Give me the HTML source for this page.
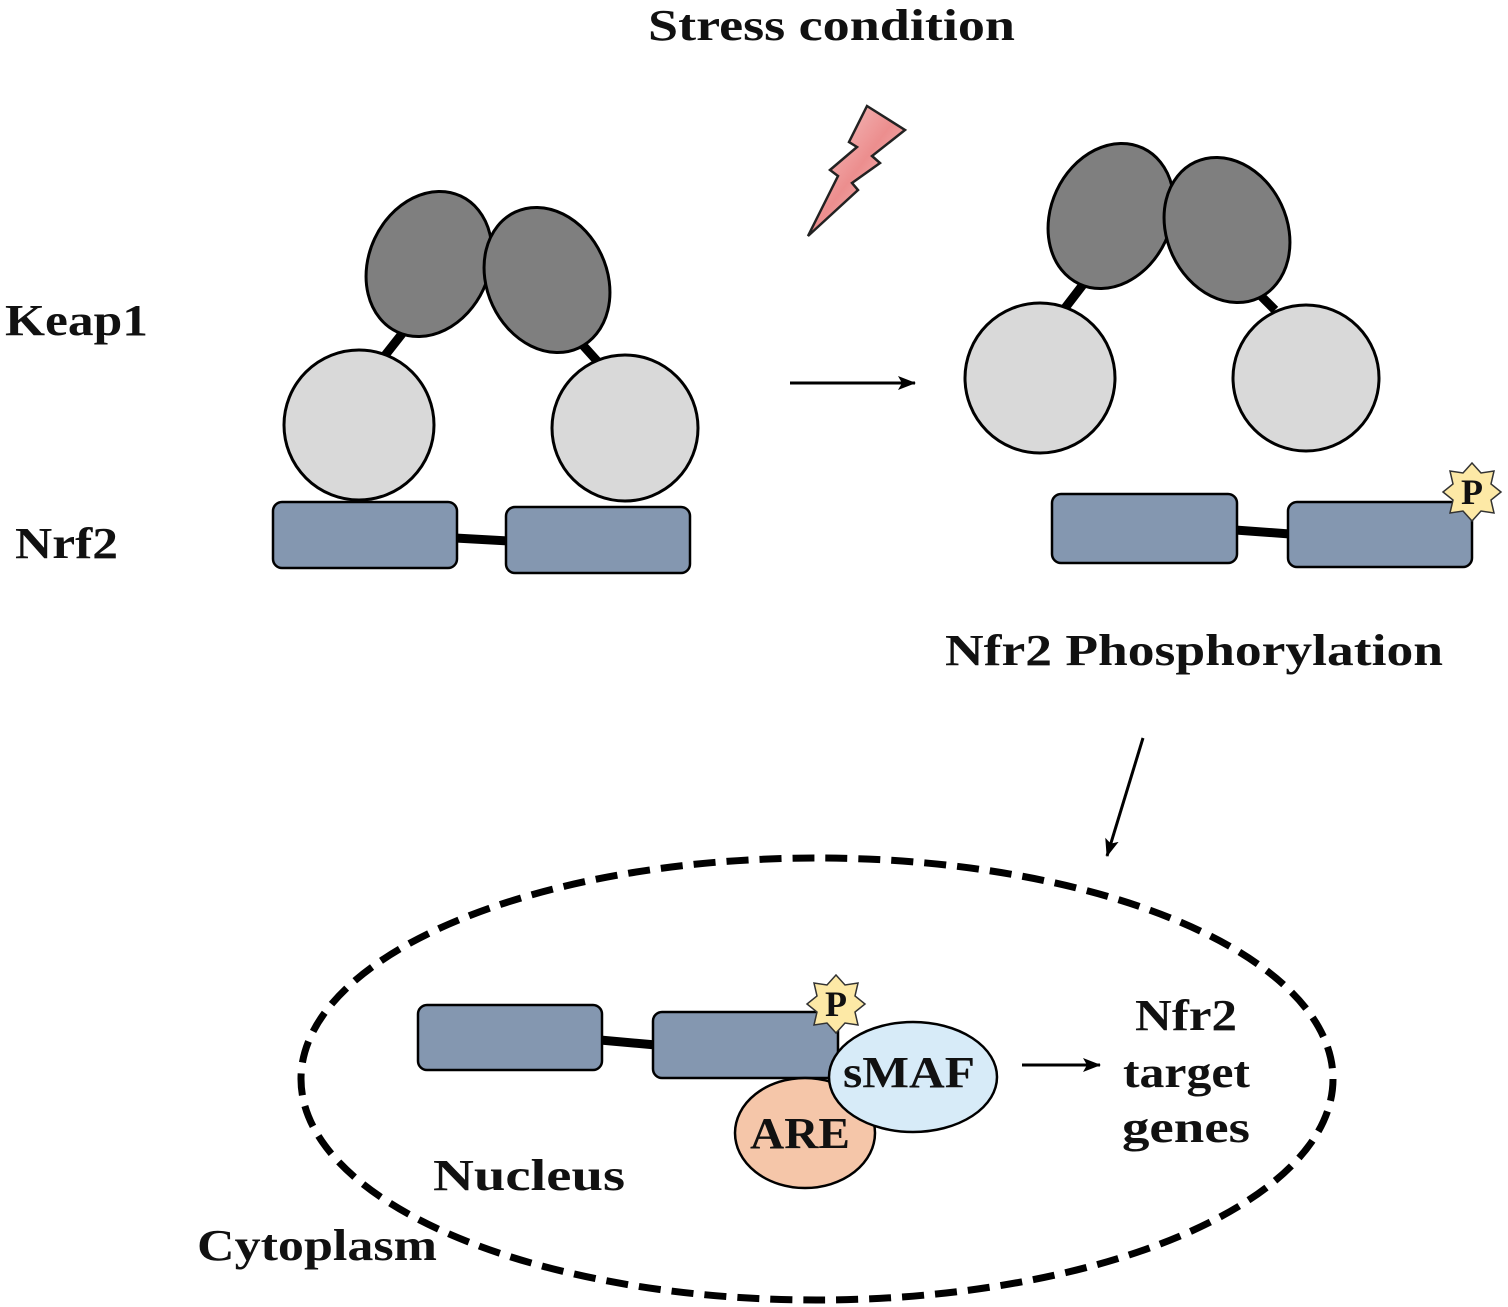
<!DOCTYPE html>
<html><head><meta charset="utf-8"><style>
html,body{margin:0;padding:0;background:#fff;}
svg{display:block;}
text{font-family:"Liberation Serif",serif;font-weight:bold;fill:#111;}
</style></head><body>
<svg width="1508" height="1307" viewBox="0 0 1508 1307" xmlns="http://www.w3.org/2000/svg">
<defs>
<linearGradient id="bolt" x1="0" y1="0" x2="1" y2="1">
<stop offset="0" stop-color="#f7d0d0"/><stop offset="0.5" stop-color="#ec8e8e"/><stop offset="1" stop-color="#f7d6d6"/>
</linearGradient>
<marker id="ah" markerWidth="18" markerHeight="14" refX="17" refY="7" orient="auto" markerUnits="userSpaceOnUse">
<path d="M0,0 L18,7 L0,14 L4,7 z" fill="#000"/>
</marker>
</defs>

<text x="648" y="40" font-size="44" textLength="367" lengthAdjust="spacingAndGlyphs">Stress condition</text>
<text x="5" y="335" font-size="44" textLength="143" lengthAdjust="spacingAndGlyphs">Keap1</text>
<text x="15" y="558" font-size="44" textLength="103" lengthAdjust="spacingAndGlyphs">Nrf2</text>
<text x="945" y="665" font-size="44" textLength="498" lengthAdjust="spacingAndGlyphs">Nfr2 Phosphorylation</text>

<polygon points="867,106 905,130 872,156 880,163 852,183 858,190 808,236 838,176 830,170 857,147 849,142" fill="url(#bolt)" stroke="#222" stroke-width="2.5"/>

<line x1="383" y1="358" x2="405" y2="330" stroke="#000" stroke-width="9"/>
<line x1="580" y1="342" x2="598" y2="362" stroke="#000" stroke-width="9"/>
<line x1="455" y1="538" x2="510" y2="541" stroke="#000" stroke-width="9"/>
<ellipse cx="429" cy="264" rx="60" ry="75" transform="rotate(25 429 264)" fill="#7f7f7f" stroke="#000" stroke-width="3"/>
<ellipse cx="547" cy="280" rx="60" ry="75" transform="rotate(-25 547 280)" fill="#7f7f7f" stroke="#000" stroke-width="3"/>
<circle cx="359" cy="425" r="75" fill="#d9d9d9" stroke="#000" stroke-width="3"/>
<circle cx="625" cy="428" r="73" fill="#d9d9d9" stroke="#000" stroke-width="3"/>
<rect x="273" y="502" width="184" height="66" rx="9" fill="#8497b0" stroke="#000" stroke-width="2.5"/>
<rect x="506" y="507" width="184" height="66" rx="9" fill="#8497b0" stroke="#000" stroke-width="2.5"/>

<line x1="790" y1="383" x2="915" y2="383" stroke="#000" stroke-width="3" marker-end="url(#ah)"/>

<line x1="1062" y1="312" x2="1085" y2="282" stroke="#000" stroke-width="9"/>
<line x1="1260" y1="295" x2="1275" y2="310" stroke="#000" stroke-width="9"/>
<line x1="1235" y1="530" x2="1290" y2="534" stroke="#000" stroke-width="9"/>
<ellipse cx="1111" cy="216" rx="60" ry="75" transform="rotate(25 1111 216)" fill="#7f7f7f" stroke="#000" stroke-width="3"/>
<ellipse cx="1227" cy="230" rx="60" ry="75" transform="rotate(-25 1227 230)" fill="#7f7f7f" stroke="#000" stroke-width="3"/>
<circle cx="1040" cy="378" r="75" fill="#d9d9d9" stroke="#000" stroke-width="3"/>
<circle cx="1306" cy="378" r="73" fill="#d9d9d9" stroke="#000" stroke-width="3"/>
<rect x="1052" y="494" width="185" height="69" rx="9" fill="#8497b0" stroke="#000" stroke-width="2.5"/>
<rect x="1288" y="502" width="184" height="65" rx="9" fill="#8497b0" stroke="#000" stroke-width="2.5"/>
<g transform="translate(1472,492)">
<polygon points="0,-29 9,-19 22,-21 19,-8 29,0 19,8 22,21 9,19 0,29 -9,19 -22,21 -19,8 -29,0 -19,-8 -22,-21 -9,-19" fill="#fde9a6" stroke="#333" stroke-width="1.5"/>
<text x="0" y="12" font-size="36" text-anchor="middle">P</text>
</g>

<line x1="1143" y1="738" x2="1107" y2="856" stroke="#000" stroke-width="3" marker-end="url(#ah)"/>

<ellipse cx="817" cy="1079" rx="516" ry="221" fill="none" stroke="#000" stroke-width="7" stroke-dasharray="22 11"/>
<line x1="600" y1="1040" x2="656" y2="1045" stroke="#000" stroke-width="9"/>
<rect x="418" y="1005" width="184" height="65" rx="9" fill="#8497b0" stroke="#000" stroke-width="2.5"/>
<rect x="653" y="1012" width="185" height="66" rx="9" fill="#8497b0" stroke="#000" stroke-width="2.5"/>
<ellipse cx="805" cy="1133" rx="70" ry="55" fill="#f5c6a9" stroke="#000" stroke-width="2.5"/>
<ellipse cx="913" cy="1077" rx="84" ry="55" fill="#d7ebf8" stroke="#000" stroke-width="2.5"/>
<g transform="translate(836,1004)">
<polygon points="0,-29 9,-19 22,-21 19,-8 29,0 19,8 22,21 9,19 0,29 -9,19 -22,21 -19,8 -29,0 -19,-8 -22,-21 -9,-19" fill="#fde9a6" stroke="#333" stroke-width="1.5"/>
<text x="0" y="12" font-size="36" text-anchor="middle">P</text>
</g>
<text x="843" y="1087" font-size="44" textLength="132" lengthAdjust="spacingAndGlyphs">sMAF</text>
<text x="750" y="1148" font-size="44" textLength="100" lengthAdjust="spacingAndGlyphs">ARE</text>
<line x1="1022" y1="1065" x2="1100" y2="1065" stroke="#000" stroke-width="3" marker-end="url(#ah)"/>
<text x="1135" y="1030" font-size="44" textLength="102" lengthAdjust="spacingAndGlyphs">Nfr2</text>
<text x="1123" y="1087" font-size="44" textLength="127" lengthAdjust="spacingAndGlyphs">target</text>
<text x="1122" y="1142" font-size="44" textLength="128" lengthAdjust="spacingAndGlyphs">genes</text>
<text x="433" y="1190" font-size="44" textLength="192" lengthAdjust="spacingAndGlyphs">Nucleus</text>
<text x="197" y="1260" font-size="44" textLength="240" lengthAdjust="spacingAndGlyphs">Cytoplasm</text>
</svg>
</body></html>
